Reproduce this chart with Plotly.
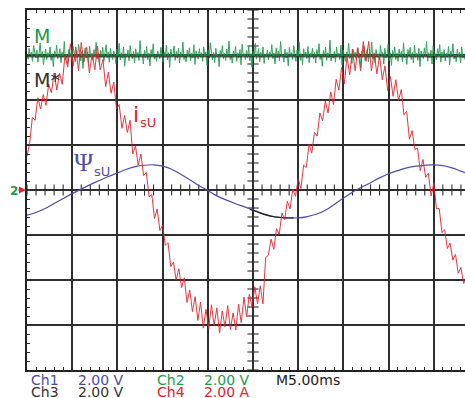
import numpy as np
import plotly.graph_objects as go

# ---- data (in screen divisions) ----
VISIBLE_DIV = 9.69          # horizontal divisions visible (screen is cropped on the right)
RED_STEP = 0.06             # sample spacing of Ch4 trace (div)
BLUE_STEP = 0.2             # sample spacing of Ch1 trace (div)

# Ch4: stator current i_sU (div)
i_sU = [0.75, 1.05, 1.62, 1.55, 2.05, 1.8, 2.12, 1.88, 2.35, 2.16,
        2.6, 2.22, 2.6, 2.35, 3.0, 2.73, 3.25, 2.75, 3.18, 2.65,
        3.28, 2.85, 3.17, 2.6, 3.03, 2.67, 3.2, 2.67, 2.9, 2.3,
        2.62, 2.15, 2.4, 1.8, 1.9, 1.37, 1.66, 1.28, 1.55, 0.8,
        0.98, 0.55, 0.8, 0.32, 0.39, -0.15, -0.1, -0.63, -0.42, -0.9,
        -0.78, -1.23, -1.17, -1.7, -1.6, -2.0, -1.75, -2.17, -1.95, -2.5,
        -2.22, -2.7, -2.37, -2.9, -2.49, -3.07, -2.65, -3.08, -2.55, -3.01,
        -2.62, -3.18, -2.69, -3.04, -2.57, -3.1, -2.73, -3.11, -2.54, -2.95,
        -2.38, -2.82, -2.31, -2.6, -2.15, -2.53, -2.13, -2.53, -1.5, -1.45,
        -1.09, -1.32, -0.86, -0.99, -0.51, -0.66, -0.25, -0.42, 0.02, -0.14,
        0.25, 0.03, 0.55, 0.5, 1.02, 0.82, 1.28, 1.2, 1.71, 1.54,
        1.98, 1.71, 2.18, 1.9, 2.46, 2.22, 2.72, 2.36, 2.96, 2.56,
        3.13, 2.65, 3.16, 2.65, 3.3, 2.86, 3.3, 2.65, 3.05, 2.58,
        2.99, 2.45, 2.76, 2.21, 2.52, 2.08, 2.45, 1.99, 2.23, 1.67,
        1.75, 1.13, 1.32, 0.9, 0.93, 0.43, 0.68, 0.28, 0.37, -0.13,
        0.15, -0.42, -0.41, -0.95, -0.88, -1.3, -1.18, -1.56, -1.43, -1.85,
        -1.72, -2.08, -1.98]

# Ch2: torque M (div)
M_torque = [
    3.02, 2.91, 3.15, 2.97, 3.06, 2.86, 3.21, 3.0, 2.93, 3.11, 2.84, 3.04, 3.27, 2.95, 3.08, 2.79, 3.01, 3.13, 2.9, 3.05,
    2.96, 3.18, 2.88, 3.03, 2.74, 3.09, 2.98, 3.22, 2.92, 3.0, 3.14, 2.83, 3.07, 2.95, 3.3, 2.89, 3.02, 2.8, 3.12, 2.97,
    3.05, 2.9, 3.19, 2.99, 2.85, 3.1, 2.94, 3.24, 3.01, 2.87, 3.08, 2.7, 3.0, 3.16, 2.93, 3.06, 2.82, 3.2, 2.96, 3.03,
    2.88, 3.12, 2.98, 3.28, 2.91, 3.04, 2.78, 3.1, 2.95, 3.17, 2.86, 3.02, 3.23, 2.94, 3.07, 2.84, 3.15, 2.99, 2.9, 3.09,
    3.0, 2.81, 3.13, 2.96, 3.26, 2.89, 3.05, 2.93, 3.18, 2.75, 3.03, 2.97, 3.11, 2.87, 3.21, 3.0, 2.92, 3.08, 2.83, 3.14,
    2.95, 3.06, 2.88, 3.32, 2.97, 3.02, 2.8, 3.1, 2.94, 3.19, 2.9, 3.04, 2.76, 3.12, 2.98, 3.25, 2.91, 3.01, 2.86, 3.09,
    3.03, 2.92, 3.17, 2.99, 2.84, 3.07, 2.95, 3.22, 2.89, 3.05, 2.72, 3.13, 2.97, 3.03, 3.2, 2.88, 3.08, 2.93, 3.15, 2.82,
    3.06, 2.96, 3.29, 2.9, 3.02, 2.85, 3.11, 2.98, 3.16, 2.87, 3.04, 2.94, 3.23, 2.79, 3.09, 3.0, 2.91, 3.14, 2.95, 3.05,
    2.86, 3.18, 2.97, 3.07, 2.77, 3.12, 2.93, 3.27, 3.0, 2.89, 3.06, 2.83, 3.15, 2.96, 3.02, 2.74, 3.1, 2.99, 3.21, 2.92,
    3.04, 2.88, 3.13, 2.95, 3.31, 2.9, 3.01, 2.82, 3.09, 2.97, 3.19, 2.86, 3.05, 2.93, 3.12, 2.78, 3.24, 2.98, 3.03, 2.9,
    3.1, 2.94, 3.2, 2.87, 3.03, 2.73, 3.08, 2.96, 3.26, 2.91, 3.0, 3.14, 2.85, 3.06, 2.95, 3.18, 2.81, 3.02, 2.97, 3.11,
    2.89, 3.07, 2.99, 3.23, 2.92, 3.04, 2.8, 3.16, 2.94, 3.09, 2.87, 3.3, 2.98, 3.01, 2.84, 3.13, 2.93, 3.06, 2.76, 3.17,
    2.97, 3.05, 2.9, 3.21, 3.0, 2.86, 3.11, 2.95, 3.28, 2.88, 3.03, 2.79, 3.14, 2.97, 3.07, 2.92, 3.19, 2.83, 3.04, 2.96,
    3.15, 2.91, 3.06, 2.82, 3.12, 2.99, 3.25, 2.9, 3.02, 2.75, 3.1, 2.96, 3.17, 2.88, 3.05, 2.94, 3.33, 2.87, 3.01, 2.93,
    3.08, 2.84, 3.18, 2.97, 3.04, 2.9, 3.22, 2.78, 3.11, 2.98, 2.86, 3.07, 2.95, 3.26, 2.92, 3.03, 2.81, 3.13, 2.99, 3.06,
    2.9, 3.16, 2.94, 3.04, 2.72, 3.09, 2.97, 3.2, 2.88, 3.02, 3.14, 2.85, 3.06, 2.96, 3.29, 2.91, 3.0, 2.83, 3.12, 2.95,
    3.03, 2.89, 3.21, 2.98, 3.07, 2.8, 3.15, 2.93, 3.01, 3.24, 2.87, 3.05, 2.77, 3.1, 2.97, 3.18, 2.9, 3.04, 2.86, 3.13,
    2.96, 3.08, 2.85, 3.27, 2.94, 3.02, 2.79, 3.12, 2.99, 3.17, 2.9, 3.06, 2.83, 3.22, 2.95, 3.04, 2.88, 3.15, 2.74, 3.09,
    3.01, 2.92, 3.16, 2.97, 3.3, 2.86, 3.05, 2.93, 3.11, 2.8, 3.2, 2.96, 3.03, 2.89, 3.14, 2.98, 3.23, 2.84, 3.07, 2.94,
    3.12, 2.87, 3.04, 2.95, 3.19, 2.78, 3.09, 2.99, 3.25, 2.91, 3.02, 2.85, 3.13, 2.97, 3.06, 2.82, 3.18, 2.93, 3.0, 2.9]

# Ch3: torque reference M* (div)
M_ref_x = [0.0, VISIBLE_DIV]
M_ref = [2.96, 2.96]

# Ch1: stator flux Psi_sU (div)
psi_sU = [-0.56, -0.5, -0.41, -0.3, -0.19, -0.08, 0.02, 0.12, 0.21, 0.3,
          0.38, 0.46, 0.52, 0.55, 0.56, 0.53, 0.46, 0.35, 0.23, 0.1,
          -0.01, -0.13, -0.22, -0.3, -0.37, -0.44, -0.52, -0.58, -0.61, -0.62,
          -0.62, -0.59, -0.54, -0.45, -0.32, -0.18, -0.05, 0.06, 0.16, 0.27,
          0.36, 0.43, 0.49, 0.53, 0.55, 0.56, 0.54, 0.49, 0.42, 0.35]

# Ch3 segment visible on top of the flux minimum
ch3_seg_x = [4.93, 5.1, 5.3, 5.5, 5.7, 5.9]
ch3_seg_y = [-0.43, -0.49, -0.56, -0.6, -0.62, -0.62]

# readout (row, column)
readout_rows = [[("Ch1", "2.00 V", "#4b4ba6"), ("Ch2", "2.00 V", "#1e9a4e")],
                [("Ch3", "2.00 V", "#333333"), ("Ch4", "2.00 A", "#e3232b")]]
timebase = "M5.00ms"

RED = "#e5222b"
GREEN = "#1c9a4c"
BLUE = "#4f4fa8"
GRID = "#2e2e2e"

x_red = np.arange(len(i_sU)) * RED_STEP
x_green = np.linspace(0, VISIBLE_DIV, len(M_torque))
x_blue = np.arange(len(psi_sU)) * BLUE_STEP

fig = go.Figure()

# center graticule minor ticks
cx = np.arange(0, VISIBLE_DIV, 0.2)
cy = np.arange(-4, 4.001, 0.2)
fig.add_trace(go.Scatter(x=cx, y=np.zeros_like(cx), mode="markers",
                         marker=dict(symbol="line-ns", size=8, line=dict(width=1.1, color=GRID)),
                         hoverinfo="skip", showlegend=False))
fig.add_trace(go.Scatter(x=np.full_like(cy, 5.0), y=cy, mode="markers",
                         marker=dict(symbol="line-ew", size=8, line=dict(width=1.1, color=GRID)),
                         hoverinfo="skip", showlegend=False))

fig.add_trace(go.Scatter(x=x_blue, y=psi_sU, mode="lines", line=dict(color=BLUE, width=1.2, shape="spline"),
                         showlegend=False))
fig.add_trace(go.Scatter(x=ch3_seg_x, y=ch3_seg_y, mode="lines", line=dict(color="#222222", width=1.2, shape="spline"),
                         showlegend=False))
fig.add_trace(go.Scatter(x=x_green, y=M_torque, mode="lines", line=dict(color=GREEN, width=1),
                         opacity=0.9, showlegend=False))
fig.add_trace(go.Scatter(x=M_ref_x, y=M_ref, mode="lines", line=dict(color="#222222", width=1),
                         showlegend=False))
fig.add_trace(go.Scatter(x=x_red, y=i_sU, mode="lines", line=dict(color=RED, width=1),
                         opacity=0.9, showlegend=False))

ann = []
ann.append(dict(x=0.11, y=3.42, text="M", font=dict(family="DejaVu Sans", size=19, color=GREEN),
                xanchor="left", yanchor="middle", showarrow=False))
ann.append(dict(x=0.11, y=2.44, text="M*", font=dict(family="DejaVu Sans", size=19, color="#333333"),
                xanchor="left", yanchor="middle", showarrow=False))
ann.append(dict(x=2.3, y=1.68, text="i", font=dict(family="DejaVu Sans", size=22, color=RED),
                xanchor="left", yanchor="middle", showarrow=False))
ann.append(dict(x=2.45, y=1.5, text="sU", font=dict(family="DejaVu Sans", size=13, color=RED),
                xanchor="left", yanchor="middle", showarrow=False))
ann.append(dict(x=0.99, y=0.62, text="Ψ", font=dict(family="Liberation Serif", size=26, color=BLUE),
                xanchor="left", yanchor="middle", showarrow=False))
ann.append(dict(x=1.44, y=0.42, text="sU", font=dict(family="DejaVu Sans", size=13, color=BLUE),
                xanchor="left", yanchor="middle", showarrow=False))


def px_x(px):
    return (px - 27) / 438.0


def px_y(py):
    return (370 - py) / 360.0


# channel ground marker (outside plot area -> paper coords)
ann.append(dict(xref="paper", yref="paper", x=px_x(26), y=0.5, ax=-9, ay=0, text="", showarrow=True,
                arrowhead=2, arrowsize=1, arrowwidth=1.4, arrowcolor=RED))
ann.append(dict(xref="paper", yref="paper", x=px_x(8), y=px_y(191), text="<b>2</b>",
                font=dict(family="DejaVu Sans", size=12, color=GREEN),
                xanchor="left", yanchor="middle", showarrow=False))

# readout
label_px = [30, 156]
value_px = [77, 203]
row_py = [380, 392]
for r, row in enumerate(readout_rows):
    for c, (ch, val, col) in enumerate(row):
        ann.append(dict(xref="paper", yref="paper", x=px_x(label_px[c]), y=px_y(row_py[r]), text=ch,
                        font=dict(family="DejaVu Sans", size=14, color=col), height=12, borderpad=0,
                        xanchor="left", yanchor="middle", showarrow=False))
        ann.append(dict(xref="paper", yref="paper", x=px_x(value_px[c]), y=px_y(row_py[r]), text=val,
                        font=dict(family="DejaVu Sans", size=14, color=col), height=12, borderpad=0,
                        xanchor="left", yanchor="middle", showarrow=False))
ann.append(dict(xref="paper", yref="paper", x=px_x(275), y=px_y(row_py[0]), text=timebase,
                font=dict(family="DejaVu Sans", size=14, color="#222222"), height=12, borderpad=0,
                xanchor="left", yanchor="middle", showarrow=False))

fig.update_layout(
    width=465, height=398,
    margin=dict(l=27, r=0, t=10, b=28),
    paper_bgcolor="white", plot_bgcolor="white",
    annotations=ann,
    xaxis=dict(range=[0, VISIBLE_DIV], dtick=1, tick0=0, showgrid=True, gridcolor=GRID, gridwidth=1.5,
               zeroline=False, showline=True, linecolor="#222222", linewidth=2, mirror="ticks",
               ticks="inside", ticklen=4, tickcolor=GRID, showticklabels=False,
               minor=dict(dtick=0.2, tick0=0, ticks="inside", ticklen=3, tickcolor=GRID, showgrid=False)),
    yaxis=dict(range=[-4, 4], dtick=1, tick0=0, showgrid=True, gridcolor=GRID, gridwidth=1.5,
               zeroline=False, showline=True, linecolor="#222222", linewidth=2, mirror=False,
               ticks="inside", ticklen=4, tickcolor=GRID, showticklabels=False,
               minor=dict(dtick=0.2, tick0=0, ticks="inside", ticklen=3, tickcolor=GRID, showgrid=False)),
)

fig.write_html("out.html")
